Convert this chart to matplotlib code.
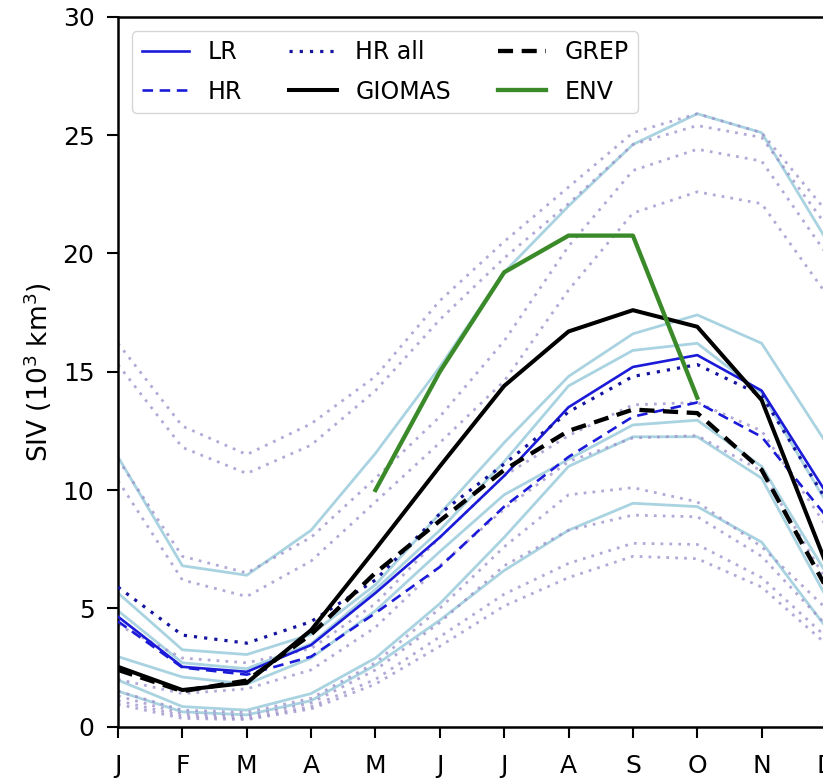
import matplotlib
matplotlib.use("Agg")
import matplotlib.pyplot as plt

months = ["J", "F", "M", "A", "M", "J", "J", "A", "S", "O", "N", "D"]

# Low-resolution ensemble members (sea-ice volume, 10^3 km^3)
lr_members = [
    [11.4, 6.8, 6.4, 8.3, 11.55, 15.2, 19.2, 22.0, 24.6, 25.9, 25.1, 20.6],
    [5.65, 3.25, 3.05, 3.9, 6.0, 9.0, 12.0, 14.8, 16.6, 17.4, 16.2, 12.0],
    [4.9, 2.7, 2.45, 3.5, 5.8, 8.3, 11.2, 14.4, 15.9, 16.2, 14.1, 9.5],
    [2.96, 2.1, 1.8, 2.9, 4.9, 7.4, 9.8, 11.3, 12.75, 12.95, 11.0, 6.5],
    [1.97, 0.85, 0.7, 1.4, 2.9, 5.2, 8.0, 11.0, 12.25, 12.25, 10.5, 5.5],
    [1.5, 0.63, 0.5, 1.1, 2.6, 4.5, 6.6, 8.3, 9.44, 9.3, 7.8, 4.2],
]

# High-resolution ensemble members
hr_members = [
    [16.2, 12.7, 11.5, 12.8, 14.8, 18.0, 20.5, 22.8, 25.1, 25.9, 25.1, 21.8],
    [15.3, 11.8, 10.7, 11.9, 14.2, 17.2, 19.8, 22.1, 24.6, 25.4, 24.9, 21.2],
    [11.3, 7.2, 6.5, 8.0, 10.5, 13.1, 16.3, 20.3, 23.5, 24.4, 23.9, 20.0],
    [10.4, 6.2, 5.5, 7.0, 9.5, 12.0, 14.6, 18.45, 21.7, 22.6, 22.1, 18.3],
    [4.3, 2.9, 2.7, 3.3, 5.2, 8.0, 10.6, 12.3, 13.6, 13.7, 12.5, 8.5],
    [2.0, 1.4, 1.6, 2.4, 4.2, 6.8, 9.2, 11.2, 12.2, 12.3, 10.8, 6.2],
    [1.5, 0.7, 0.6, 1.2, 2.7, 5.0, 7.6, 9.8, 10.1, 9.5, 7.6, 5.0],
    [1.3, 0.55, 0.45, 1.0, 2.4, 4.4, 6.8, 8.3, 8.94, 8.87, 7.2, 4.3],
    [1.1, 0.45, 0.35, 0.85, 2.0, 3.8, 5.6, 6.9, 7.75, 7.7, 6.3, 3.8],
    [0.95, 0.35, 0.3, 0.75, 1.8, 3.4, 5.1, 6.3, 7.2, 7.1, 5.9, 3.5],
]

lr = [4.65, 2.53, 2.32, 3.45, 5.65, 8.0, 10.6, 13.5, 15.2, 15.7, 14.2, 9.9]
hr = [4.45, 2.5, 2.2, 2.96, 4.8, 6.75, 9.3, 11.4, 13.1, 13.7, 12.25, 8.9]
hr_all = [5.9, 3.87, 3.53, 4.44, 6.2, 9.0, 11.1, 13.3, 14.8, 15.3, 14.0, 9.6]
giomas = [2.53, 1.55, 1.85, 4.08, 7.5, 11.0, 14.4, 16.7, 17.6, 16.9, 13.8, 6.9]
grep = [2.4, 1.5, 1.95, 3.9, 6.5, 8.7, 10.85, 12.5, 13.4, 13.25, 10.85, 5.9]
env_months = [4, 5, 6, 7, 8, 9]
env = [10.0, 15.0, 19.2, 20.75, 20.75, 13.9]

x = list(range(12))

W, H = 823, 783
fig = plt.figure(figsize=(W / 100, H / 100), dpi=100)
left = 118 / W
bottom = 1 - 726.7 / H
width = (826 - 118) / W
height = (726.7 - 16.7) / H
ax = fig.add_axes([left, bottom, width, height])

for m in lr_members:
    ax.plot(x, m, color="#a9d3e0", lw=2.0, zorder=1)
for m in hr_members:
    ax.plot(x, m, color="#9a8cc9", lw=2.0, ls=(0, (1, 2.2)), alpha=0.75, zorder=1)

ax.plot(x, lr, color="#1a1ad8", lw=1.9, label="LR", zorder=3)
ax.plot(x, hr, color="#1a1ad8", lw=1.9, ls=(0, (4, 2.5)), label="HR", zorder=3)
ax.plot(x, hr_all, color="#14149e", lw=2.3, ls=(0, (1, 2.2)), label="HR all", zorder=3)
ax.plot(x, giomas, color="black", lw=2.9, label="GIOMAS", zorder=4)
ax.plot(x, grep, color="black", lw=3.1, ls=(0, (3.5, 2.0)), label="GREP", zorder=4)
ax.plot(env_months, env, color="#3a8a2a", lw=3.1, label="ENV", zorder=5)

ax.set_xlim(0, 11)
ax.set_ylim(0, 30)
ax.set_xticks(x)
ax.set_xticklabels(months)
ax.set_yticks([0, 5, 10, 15, 20, 25, 30])
ax.tick_params(labelsize=18, length=8, width=1.5)
ax.tick_params(axis="x", pad=12)
ax.tick_params(axis="y", pad=9)
for s in ax.spines.values():
    s.set_linewidth(1.8)
ax.set_ylabel("SIV (10$^3$ km$^3$)", fontsize=19, labelpad=6)

leg = ax.legend(ncol=3, loc="upper left", fontsize=17, frameon=True,
                borderaxespad=0.6, handlelength=2.0, columnspacing=2.0,
                labelspacing=0.65)
leg.get_frame().set_edgecolor("#cccccc")

fig.savefig("out.png", dpi=100)
